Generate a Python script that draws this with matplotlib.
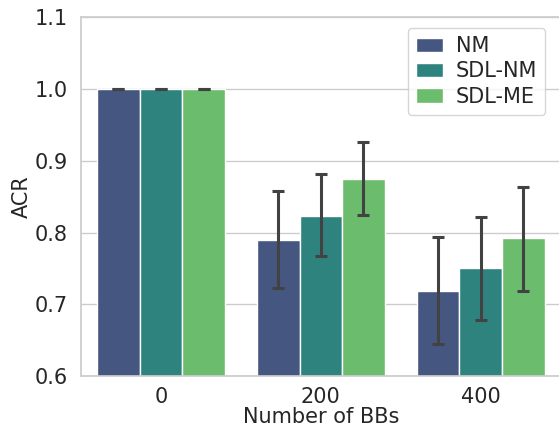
import numpy as np
import matplotlib
matplotlib.use('Agg')
import matplotlib.pyplot as plt
import seaborn as sns

sns.set_theme(style='whitegrid')
plt.rcParams['font.family'] = ['DejaVu Sans']

groups = ['0', '200', '400']
methods = ['NM', 'SDL-NM', 'SDL-ME']
acr = {
    'NM': [1.0, 0.790, 0.718],
    'SDL-NM': [1.0, 0.823, 0.751],
    'SDL-ME': [1.0, 0.875, 0.792],
}
err_lo = {
    'NM': [1.0, 0.722, 0.644],
    'SDL-NM': [1.0, 0.767, 0.678],
    'SDL-ME': [1.0, 0.824, 0.719],
}
err_hi = {
    'NM': [1.0, 0.858, 0.794],
    'SDL-NM': [1.0, 0.881, 0.822],
    'SDL-ME': [1.0, 0.926, 0.864],
}

colors = [sns.desaturate(c, 0.75) for c in sns.color_palette('viridis', 3)]

fig = plt.figure(figsize=(5.59, 4.28), dpi=100)
ax = fig.add_axes([0.145, 0.1215, 0.858, 0.838])

x = np.arange(len(groups))
w = 0.8 / 3
for i, m in enumerate(methods):
    vals = np.array(acr[m])
    lo = vals - np.array(err_lo[m])
    hi = np.array(err_hi[m]) - vals
    pos = x - 0.4 + w * (i + 0.5)
    ax.bar(pos, vals, width=w, color=colors[i], edgecolor='white', linewidth=1, label=m, zorder=2)
    ax.errorbar(pos, vals, yerr=[lo, hi], fmt='none', ecolor='#424242', elinewidth=2.2,
                capsize=4, capthick=2.2, zorder=3)

ax.set_ylim(0.6, 1.1)
ax.set_yticks([0.6, 0.7, 0.8, 0.9, 1.0, 1.1])
ax.set_xlim(-0.5, 2.5)
ax.set_xticks(x)
ax.set_xticklabels(groups)
ax.tick_params(labelsize=15, colors='#262626')
ax.tick_params(axis='x', pad=2)
ax.set_xlabel('Number of BBs', fontsize=15, color='#262626', labelpad=0)
ax.set_ylabel('ACR', fontsize=15, color='#262626', labelpad=2)
ax.grid(axis='x', visible=False)
ax.set_axisbelow(True)
ax.legend(loc='upper right', fontsize=15, handlelength=1.3, handletextpad=0.6,
          labelspacing=0.25, borderpad=0.4, bbox_to_anchor=(0.99, 1.0))

fig.savefig('out.png', dpi=100)
